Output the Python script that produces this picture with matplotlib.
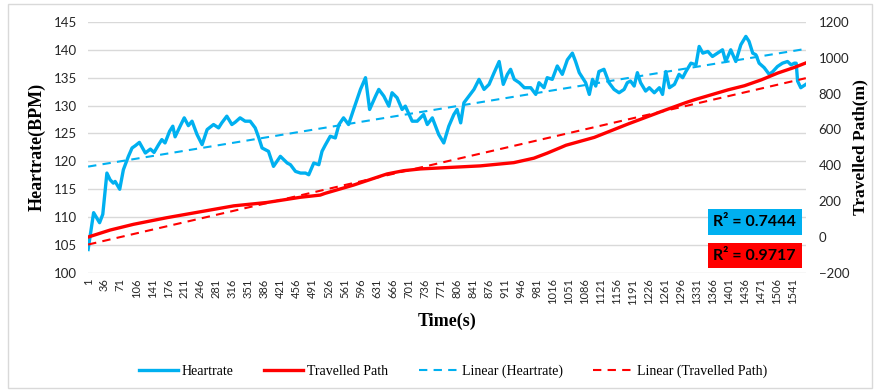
import numpy as np
import matplotlib.pyplot as plt
from matplotlib.patches import Rectangle

# heart rate samples (s, BPM)
hr_time = [1, 13, 26, 33, 42, 49, 56, 60, 70, 78, 89, 97, 104, 113, 126, 137, 145,
           155, 162, 169, 179, 186, 191, 202, 211, 220, 228, 239, 250, 261, 275, 286,
           293, 304, 315, 322, 333, 344, 355, 366, 374, 381, 395, 406, 421, 436, 443,
           454, 465, 476, 483, 494, 505, 512, 519, 530, 541, 549, 559, 570, 581, 596,
           607, 616, 629, 636, 647, 658, 665, 676, 687, 694, 709, 720, 734, 742, 753,
           760, 767, 778, 789, 800, 807, 815, 822, 833, 844, 855, 866, 877, 888, 899,
           908, 917, 924, 932, 943, 954, 968, 979, 986, 997, 1004, 1015, 1026, 1037,
           1048, 1059, 1066, 1074, 1088, 1096, 1103, 1110, 1117, 1128, 1139, 1150,
           1161, 1172, 1179, 1186, 1194, 1201, 1208, 1219, 1227, 1238, 1249, 1256,
           1263, 1271, 1282, 1292, 1300, 1307, 1318, 1329, 1336, 1344, 1355, 1365,
           1376, 1387, 1394, 1405, 1416, 1427, 1438, 1445, 1453, 1460, 1467, 1478,
           1489, 1497, 1507, 1518, 1529, 1537, 1544, 1548, 1551, 1558, 1569]
hr_bpm = [104.2, 110.8, 109.0, 110.5, 117.9, 116.7, 116.1, 116.4, 115.0, 118.5, 120.9,
          122.4, 122.8, 123.4, 121.5, 122.2, 121.6, 123.0, 123.9, 123.3, 125.4, 126.3,
          124.4, 126.3, 127.8, 126.4, 127.2, 124.8, 123.0, 125.7, 126.6, 126.0, 126.9,
          128.1, 126.6, 127.0, 127.8, 127.2, 127.2, 126.0, 124.2, 122.4, 121.8, 119.1,
          120.9, 119.7, 119.4, 118.2, 117.9, 117.9, 117.6, 119.7, 119.4, 121.8, 122.9,
          124.5, 124.2, 126.6, 127.8, 126.6, 129.3, 132.9, 135.0, 129.3, 131.7, 132.9,
          131.7, 129.9, 132.3, 131.4, 129.3, 129.9, 127.2, 127.2, 128.4, 126.6, 127.8,
          126.3, 124.8, 123.3, 126.3, 128.4, 129.3, 126.9, 130.5, 131.7, 132.9, 134.7,
          132.9, 133.8, 135.9, 137.9, 133.8, 135.6, 136.5, 134.7, 134.1, 133.2, 133.2,
          132.0, 134.1, 133.2, 135.0, 134.7, 137.1, 135.6, 138.2, 139.4, 137.9, 135.9,
          134.1, 132.0, 134.7, 133.5, 136.1, 136.5, 134.1, 132.9, 132.3, 132.9, 134.1,
          134.4, 133.5, 135.9, 134.1, 132.6, 133.2, 132.3, 133.2, 132.0, 136.1, 133.2,
          133.8, 135.6, 135.0, 136.1, 137.6, 137.3, 140.6, 139.4, 139.7, 138.8, 139.4,
          140.0, 137.9, 140.0, 137.9, 140.9, 142.4, 141.5, 139.4, 139.1, 137.6, 136.8,
          135.6, 136.1, 137.0, 137.6, 137.9, 137.3, 137.6, 137.6, 134.4, 133.2, 133.8]

# travelled path samples (s, m)
path_time = [1, 49, 100, 173, 246, 319, 392, 465, 508, 519, 581, 654, 690, 727, 781,
             858, 931, 975, 1004, 1034, 1045, 1107, 1180, 1253, 1307, 1326, 1399, 1435,
             1472, 1508, 1544, 1569]
path_m = [0, 39, 71, 108, 141, 174, 193, 222, 234, 244, 290, 352, 370, 380, 387, 397,
          415, 440, 468, 500, 512, 556, 630, 700, 750, 766, 821, 844, 877, 915, 946, 971]

x_ticks = list(range(1, 1570, 35))
r2_hr = 0.7444
r2_path = 0.9717

blue = '#00B0F0'
red = '#FF0000'
serif = 'Liberation Serif'
sans = 'Lato'

fig = plt.figure(figsize=(8.79, 3.91), dpi=100)
ax = fig.add_axes([0.100, 0.302, 0.817, 0.642])
ax2 = ax.twinx()

hr_line, = ax.plot(hr_time, hr_bpm, color=blue, lw=2.4, solid_joinstyle='round')
k, b = np.polyfit(hr_time, hr_bpm, 1)
tt = np.array([1, 1569])
hr_fit, = ax.plot(tt, k * tt + b, color=blue, lw=1.5, ls=(0, (4, 3)))

path_line, = ax2.plot(path_time, path_m, color=red, lw=2.4)
k2, b2 = np.polyfit(path_time, path_m, 1)
path_fit, = ax2.plot(tt, k2 * tt + b2, color=red, lw=1.5, ls=(0, (4, 3)))

ax.set_xlim(0.5, 1569.5)
ax.set_ylim(100, 145)
ax.set_yticks(range(100, 146, 5))
ax2.set_ylim(-200, 1200)
ax2.set_yticks(range(-200, 1201, 200))

ax.set_xticks(x_ticks)
ax.set_xticklabels([str(v) for v in x_ticks], rotation=90, fontsize=8, family=sans,
                   color='#262626')
for lab in ax.get_yticklabels():
    lab.set_fontfamily(sans)
for lab in ax2.get_yticklabels():
    lab.set_fontfamily(sans)
ax.tick_params(axis='y', labelsize=9.5, length=0, pad=8, colors='#262626')
ax2.tick_params(axis='y', labelsize=9.5, length=0, pad=9, colors='#262626')
ax.tick_params(axis='x', length=0, pad=4)

ax.grid(axis='y', color='#d9d9d9', lw=1)
ax.set_axisbelow(True)
for a in (ax, ax2):
    for s in a.spines.values():
        s.set_visible(False)

ax.set_ylabel('Heartrate(BPM)', fontsize=13, fontweight='bold', family=serif, labelpad=6)
ax2.set_ylabel('Travelled Path(m)', fontsize=12.5, fontweight='bold', family=serif,
               labelpad=2)
ax.set_xlabel('Time(s)', fontsize=13, fontweight='bold', family=serif, labelpad=6)

# R² boxes
ax2.text(0.986, 0.203, 'R² = %.4f' % r2_hr, transform=ax.transAxes, ha='right',
         va='center', fontsize=11.5, fontweight='bold', family=sans,
         bbox=dict(boxstyle='square,pad=0.35', fc=blue, ec='none'))
ax2.text(0.986, 0.068, 'R² = %.4f' % r2_path, transform=ax.transAxes, ha='right',
         va='center', fontsize=11.5, fontweight='bold', family=sans,
         bbox=dict(boxstyle='square,pad=0.35', fc=red, ec='none'))

fig.legend([hr_line, path_line, hr_fit, path_fit],
           ['Heartrate', 'Travelled Path', 'Linear (Heartrate)', 'Linear (Travelled Path)'],
           loc='center', bbox_to_anchor=(0.515, 0.05), ncol=4, frameon=False,
           prop={'family': serif, 'size': 10}, handlelength=2.8, columnspacing=2.2,
           handletextpad=0.3)

fig.patches.append(Rectangle((8 / 879, 3 / 391), 864 / 879, 384 / 391,
                             transform=fig.transFigure, fill=False, ec='#d9d9d9', lw=1))

fig.savefig('out.png', dpi=100)
